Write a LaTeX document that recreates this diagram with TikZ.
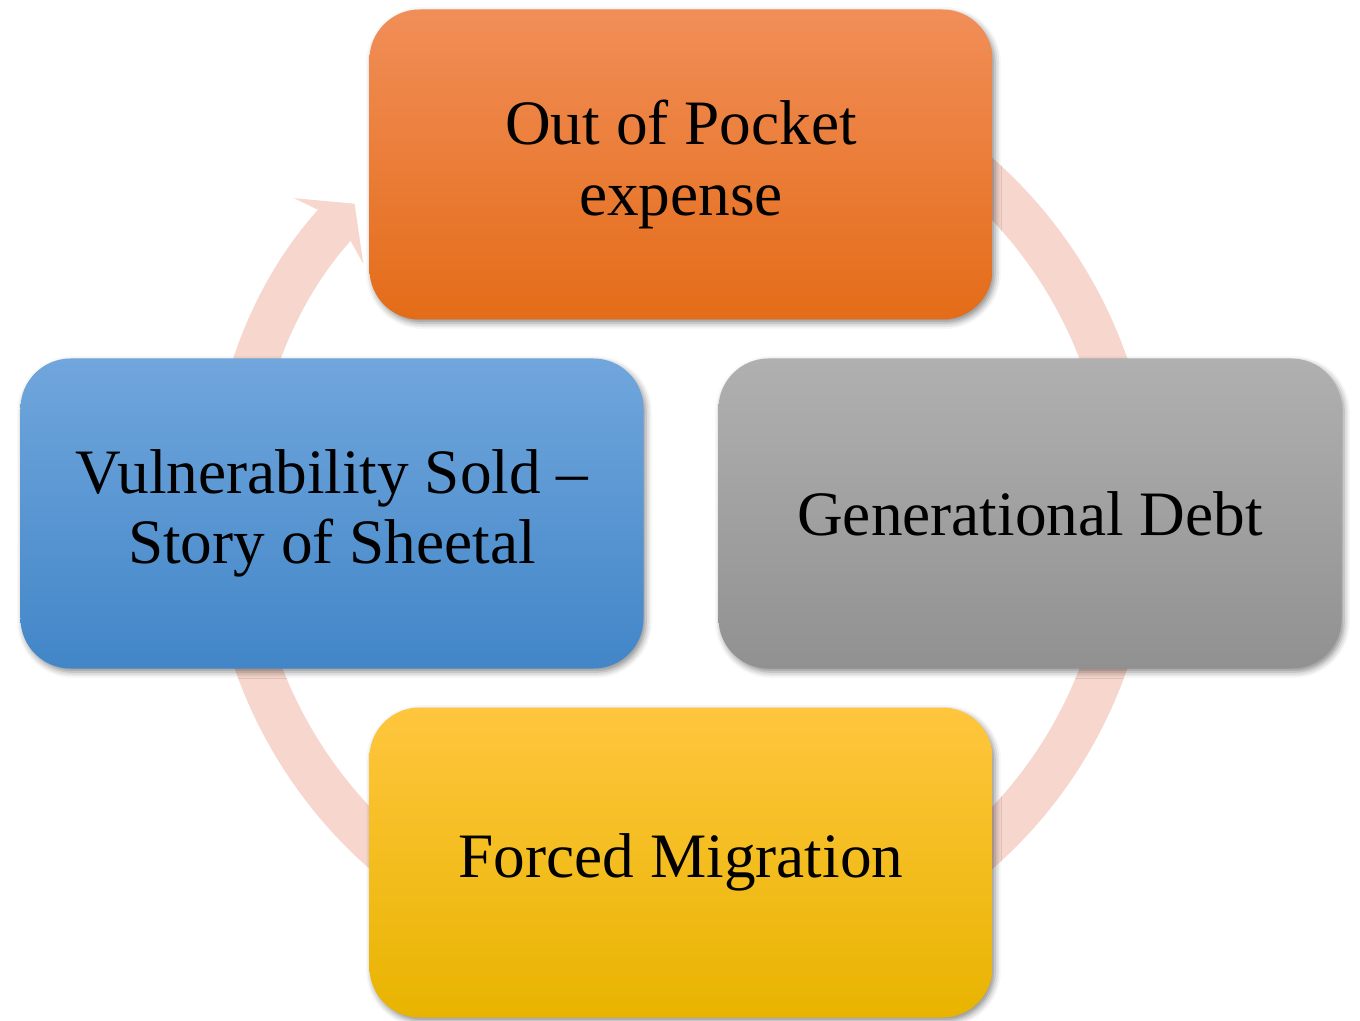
\documentclass[tikz,border=0pt]{standalone}
\usepackage{fontspec}
\setmainfont{Liberation Serif}
\usetikzlibrary{positioning, arrows.meta, shadows.blur}

\definecolor{ringpink}{RGB}{247,215,205}
\definecolor{pockettop}{RGB}{241,142,88}
\definecolor{pocketmid}{RGB}{244,124,42}
\definecolor{pocketbot}{RGB}{228,108,24}
\definecolor{soldtop}{RGB}{112,166,220}
\definecolor{soldmid}{RGB}{84,150,214}
\definecolor{soldbot}{RGB}{66,134,200}
\definecolor{debttop}{RGB}{176,176,176}
\definecolor{debtmid}{RGB}{163,163,163}
\definecolor{debtbot}{RGB}{145,145,145}
\definecolor{migtop}{RGB}{255,198,62}
\definecolor{migmid}{RGB}{254,192,0}
\definecolor{migbot}{RGB}{232,180,0}

\begin{document}
\begin{tikzpicture}[node distance=6.98cm,
    stagebox/.style={rounded corners=1cm, minimum width=12.46cm, minimum height=6.2cm, align=center,
        font=\fontsize{36}{40}\selectfont,
        blur shadow={shadow xshift=0.05cm, shadow yshift=-0.07cm, shadow blur radius=0.12cm, shadow opacity=45}},
    ring/.style={draw=ringpink, line width=0.9cm, -{Stealth[length=0.75cm, width=1.9cm, inset=0.3cm]}}]  % Styles for the boxes and the cycle arrow
    \useasboundingbox (0,0) rectangle (27.2,-20.42);  % Fixes the page size
    % Centre of the cycle
    \coordinate (hub) at (13.62,-10.27);  % Middle point of the ring
    \coordinate (ringstart) at ([shift={(70:9cm)}]hub);  % Start of the ring, hidden under the top box

    % Ring behind the boxes
    \draw [ring] (ringstart) arc [start angle=70, end angle=-223.5, radius=9cm];  % Draws the clockwise ring ending in an arrow

    % Nodes
    \node (pocket) [stagebox, above=of hub, anchor=center, top color=pockettop, middle color=pocketmid, bottom color=pocketbot] {Out of Pocket\\expense};  % Top box
    \node (debt) [stagebox, right=of hub, anchor=center, top color=debttop, middle color=debtmid, bottom color=debtbot] {Generational Debt};  % Right box
    \node (migration) [stagebox, below=of hub, anchor=center, top color=migtop, middle color=migmid, bottom color=migbot] {Forced Migration};  % Bottom box
    \node (sold) [stagebox, left=of hub, anchor=center, top color=soldtop, middle color=soldmid, bottom color=soldbot] {Vulnerability Sold –\\Story of Sheetal};  % Left box
\end{tikzpicture}
\end{document}
